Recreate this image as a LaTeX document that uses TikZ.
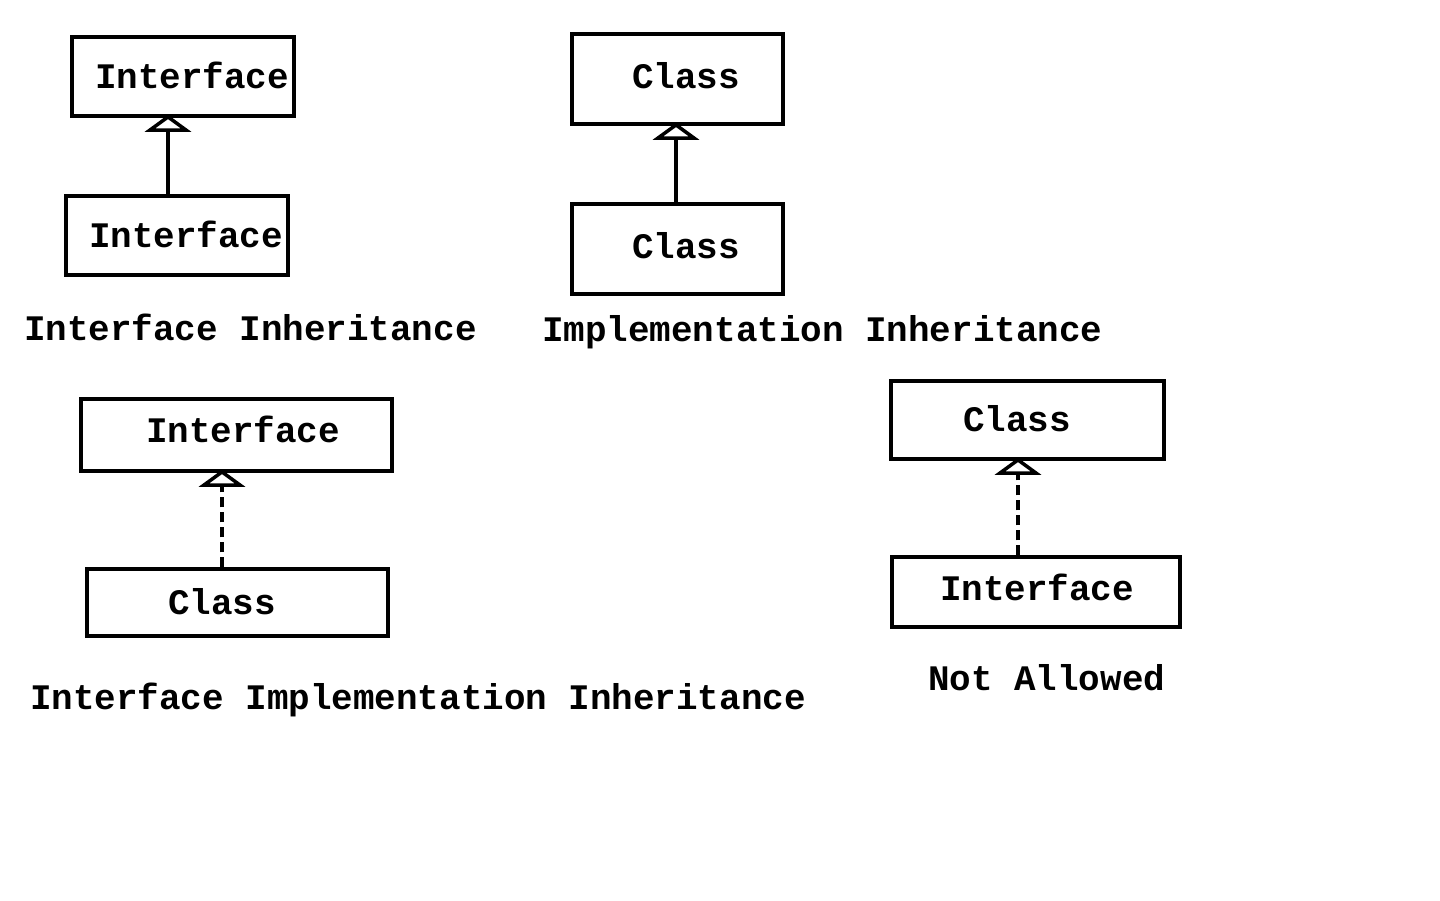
\documentclass[tikz,border=0pt]{standalone}
\usepackage{fontspec}
\setmonofont{Liberation Mono}
\usetikzlibrary{arrows.meta}

\tikzset{
  box/.style={draw, line width=3.5pt, inner sep=0pt},
  txt/.style={inner sep=0pt, anchor=base west, font=\fontsize{35.9}{40}\selectfont\ttfamily\bfseries},
  inherit/.style={line width=3.5pt, shorten >=-3pt, -{Triangle[open, width=46pt, length=17pt, line width=3.5pt]}},
  realize/.style={inherit, dash pattern=on 10pt off 5pt}
}

\begin{document}
\begin{tikzpicture}[x=1pt, y=-1pt]
  \useasboundingbox (0,0) rectangle (1440,900);

  % interface inheritance
  \node[box, minimum width=222pt, minimum height=79pt] (ifaceA) at (183,76.5) {};
  \node[box, minimum width=222pt, minimum height=79pt] (ifaceB) at (177,235.5) {};
  \node[txt] (tA) at (95,88) {Interface};
  \node[txt] (tB) at (89,247) {Interface};
  \draw[inherit] (168,0 |- ifaceB.north) -- (168,0 |- ifaceA.south);
  \node[txt] (capA) at (24,340) {Interface Inheritance};

  % implementation inheritance
  \node[box, minimum width=211pt, minimum height=90pt] (classA) at (677.5,79) {};
  \node[box, minimum width=211pt, minimum height=90pt] (classB) at (677.5,249) {};
  \node[txt] (tC) at (632,88) {Class};
  \node[txt] (tD) at (632,258) {Class};
  \draw[inherit] (676,0 |- classB.north) -- (676,0 |- classA.south);
  \node[txt] (capB) at (542,341) {Implementation Inheritance};

  % interface implementation
  \node[box, minimum width=311pt, minimum height=72pt] (ifaceC) at (236.5,435) {};
  \node[box, minimum width=301pt, minimum height=67pt] (classC) at (237.5,602.5) {};
  \node[txt] (tE) at (146,442) {Interface};
  \node[txt] (tF) at (168,614) {Class};
  \draw[realize] (222,0 |- classC.north) -- (222,0 |- ifaceC.south);
  \node[txt] (capC) at (30,709) {Interface Implementation Inheritance};

  % not allowed
  \node[box, minimum width=273pt, minimum height=78pt] (classD) at (1027.5,420) {};
  \node[box, minimum width=288pt, minimum height=70pt] (ifaceD) at (1036,592) {};
  \node[txt] (tG) at (963,431) {Class};
  \node[txt] (tH) at (940,600) {Interface};
  \draw[realize] (1018,0 |- ifaceD.north) -- (1018,0 |- classD.south);
  \node[txt] (capD) at (928,690) {Not Allowed};
\end{tikzpicture}
\end{document}
